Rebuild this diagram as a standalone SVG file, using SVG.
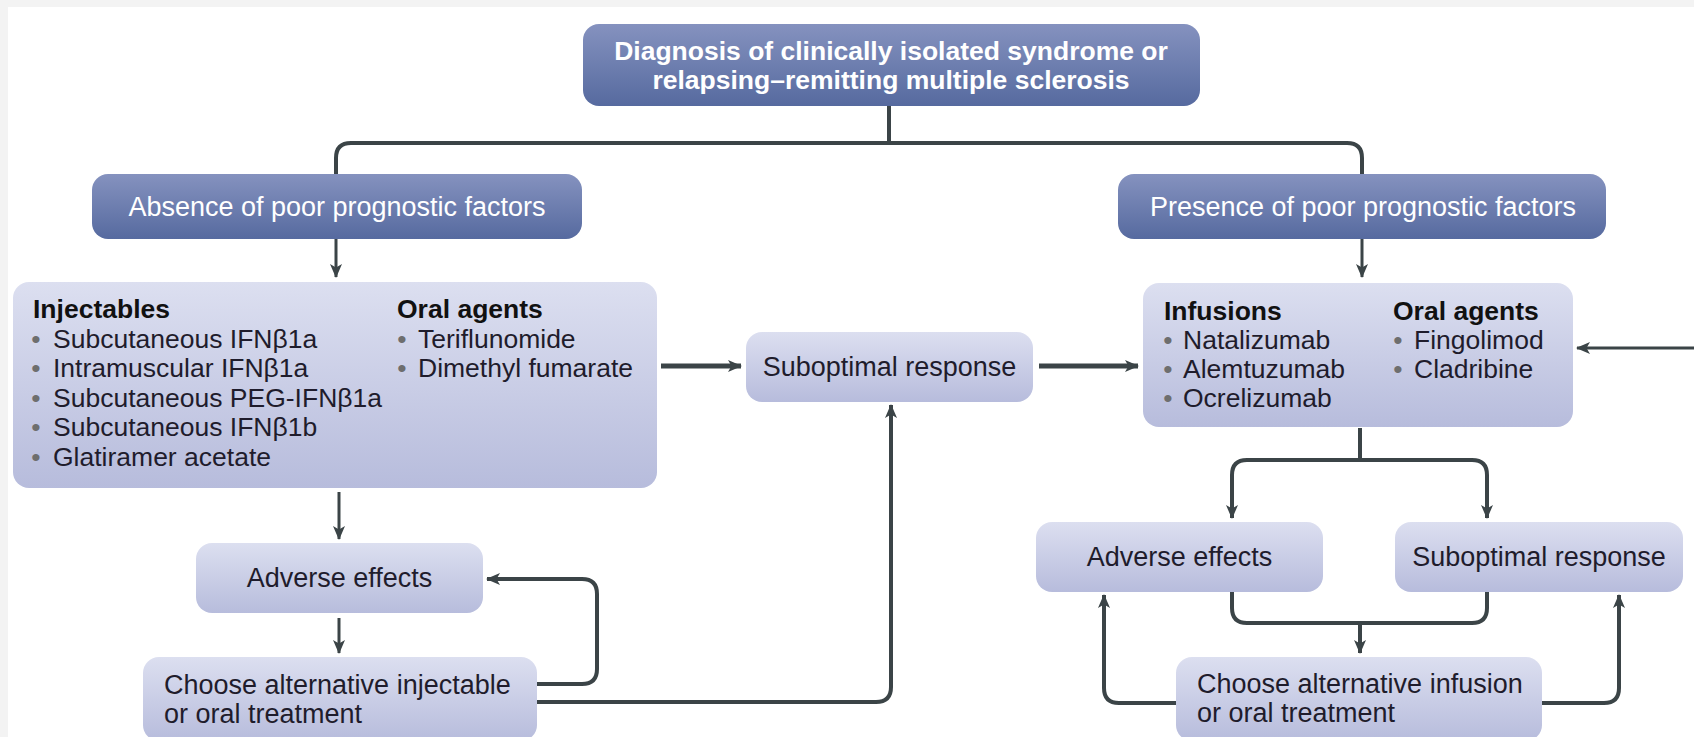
<svg xmlns="http://www.w3.org/2000/svg" width="1694" height="737" viewBox="0 0 1694 737">
<style>
.dark{fill:url(#gDark)}
.light{fill:url(#gLight)}
.wt{font-family:"Liberation Sans",Arial,sans-serif;font-size:27px;fill:#ffffff}
.title{font-family:"Liberation Sans",Arial,sans-serif;font-size:26.5px;font-weight:bold;fill:#ffffff}
.lbl{font-family:"Liberation Sans",Arial,sans-serif;font-size:27px;fill:#1f1c2c}
.li{font-family:"Liberation Sans",Arial,sans-serif;font-size:26.5px;fill:#1f1c2c}
.hd{font-family:"Liberation Sans",Arial,sans-serif;font-size:26.5px;font-weight:bold;fill:#111111}
.bu{fill:#6e6e6e}
.c{fill:none;stroke:#3b4447;stroke-linejoin:round}
.w3{stroke-width:3}
.w4{stroke-width:4}
.w5{stroke-width:5}
.arr{marker-end:url(#ah)}
</style>
<defs>
<linearGradient id="gDark" x1="0" y1="0" x2="0" y2="1">
<stop offset="0" stop-color="#8592bf"/>
<stop offset="1" stop-color="#566a9f"/>
</linearGradient>
<linearGradient id="gLight" x1="0" y1="0" x2="0" y2="1">
<stop offset="0" stop-color="#dcdff0"/>
<stop offset="1" stop-color="#b7bcdc"/>
</linearGradient>
<marker id="ah" viewBox="0 0 14 12" refX="13" refY="6" markerWidth="14" markerHeight="12" markerUnits="userSpaceOnUse" orient="auto">
<path d="M0,0 L14,6 L0,12 L3.5,6 Z" fill="#3b4447"/>
</marker>
</defs>
<rect x="0" y="0" width="1694" height="737" fill="#f3f3f3"/>
<rect x="8" y="7" width="1686" height="730" fill="#ffffff"/>

<g id="connectors">
<path class="c w4" d="M889,106 V143"/>
<path class="c w4" d="M336,174 V158 Q336,143 351,143 H1347 Q1362,143 1362,158 V174"/>
<path class="c w3 arr" d="M336,239 V277"/>
<path class="c w3 arr" d="M1362,239 V277"/>
<path class="c w5 arr" d="M661,366 H741"/>
<path class="c w5 arr" d="M1039,366 H1138"/>
<path class="c w3 arr" d="M1694,348 H1577"/>
<path class="c w3 arr" d="M339,492 V539"/>
<path class="c w3 arr" d="M339,618 V653"/>
<path class="c w4 arr" d="M537,684 H582 Q597,684 597,669 V594 Q597,579 582,579 H487"/>
<path class="c w4 arr" d="M537,702 H876 Q891,702 891,687 V405"/>
<path class="c w4" d="M1360,428 V460"/>
<path class="c w4 arr" d="M1360,460 H1247 Q1232,460 1232,475 V518"/>
<path class="c w4 arr" d="M1360,460 H1472 Q1487,460 1487,475 V518"/>
<path class="c w4" d="M1232,592 V608 Q1232,623 1247,623 H1472 Q1487,623 1487,608 V592"/>
<path class="c w4 arr" d="M1360,623 V653"/>
<path class="c w4 arr" d="M1176,703 H1119 Q1104,703 1104,688 V595"/>
<path class="c w4 arr" d="M1542,703 H1604 Q1619,703 1619,688 V595"/>
</g>

<g id="diagnosis">
<rect class="dark" x="583" y="24" width="617" height="82" rx="16"/>
<text class="title" x="891" y="60" text-anchor="middle">Diagnosis of clinically isolated syndrome or</text>
<text class="title" x="891" y="89" text-anchor="middle">relapsing–remitting multiple sclerosis</text>
</g>

<g id="absence">
<rect class="dark" x="92" y="174" width="490" height="65" rx="16"/>
<text class="wt" x="337" y="216" text-anchor="middle">Absence of poor prognostic factors</text>
</g>

<g id="presence">
<rect class="dark" x="1118" y="174" width="488" height="65" rx="16"/>
<text class="wt" x="1363" y="216" text-anchor="middle">Presence of poor prognostic factors</text>
</g>

<g id="first-line">
<rect class="light" x="13" y="282" width="644" height="206" rx="16"/>
<text class="hd" x="33" y="318">Injectables</text>
<text class="li" y="347.5"><tspan class="bu" x="36" text-anchor="middle">•</tspan><tspan x="53">Subcutaneous IFNβ1a</tspan></text>
<text class="li" y="377"><tspan class="bu" x="36" text-anchor="middle">•</tspan><tspan x="53">Intramuscular IFNβ1a</tspan></text>
<text class="li" y="406.5"><tspan class="bu" x="36" text-anchor="middle">•</tspan><tspan x="53">Subcutaneous PEG-IFNβ1a</tspan></text>
<text class="li" y="436"><tspan class="bu" x="36" text-anchor="middle">•</tspan><tspan x="53">Subcutaneous IFNβ1b</tspan></text>
<text class="li" y="465.5"><tspan class="bu" x="36" text-anchor="middle">•</tspan><tspan x="53">Glatiramer acetate</tspan></text>
<text class="hd" x="397" y="318">Oral agents</text>
<text class="li" y="347.5"><tspan class="bu" x="402" text-anchor="middle">•</tspan><tspan x="418">Teriflunomide</tspan></text>
<text class="li" y="377"><tspan class="bu" x="402" text-anchor="middle">•</tspan><tspan x="418">Dimethyl fumarate</tspan></text>
</g>

<g id="suboptimal-1">
<rect class="light" x="746" y="332" width="287" height="70" rx="16"/>
<text class="lbl" x="889.5" y="376" text-anchor="middle">Suboptimal response</text>
</g>

<g id="second-line">
<rect class="light" x="1143" y="283" width="430" height="144" rx="16"/>
<text class="hd" x="1164" y="320">Infusions</text>
<text class="li" y="349"><tspan class="bu" x="1168" text-anchor="middle">•</tspan><tspan x="1183">Natalizumab</tspan></text>
<text class="li" y="378"><tspan class="bu" x="1168" text-anchor="middle">•</tspan><tspan x="1183">Alemtuzumab</tspan></text>
<text class="li" y="407"><tspan class="bu" x="1168" text-anchor="middle">•</tspan><tspan x="1183">Ocrelizumab</tspan></text>
<text class="hd" x="1393" y="320">Oral agents</text>
<text class="li" y="349"><tspan class="bu" x="1398" text-anchor="middle">•</tspan><tspan x="1414">Fingolimod</tspan></text>
<text class="li" y="378"><tspan class="bu" x="1398" text-anchor="middle">•</tspan><tspan x="1414">Cladribine</tspan></text>
</g>

<g id="adverse-1">
<rect class="light" x="196" y="543" width="287" height="70" rx="16"/>
<text class="lbl" x="339.5" y="587" text-anchor="middle">Adverse effects</text>
</g>

<g id="choose-1">
<rect class="light" x="143" y="657" width="394" height="84" rx="16"/>
<text class="lbl" x="164" y="694">Choose alternative injectable</text>
<text class="lbl" x="164" y="723">or oral treatment</text>
</g>

<g id="adverse-2">
<rect class="light" x="1036" y="522" width="287" height="70" rx="16"/>
<text class="lbl" x="1179.5" y="566" text-anchor="middle">Adverse effects</text>
</g>

<g id="suboptimal-2">
<rect class="light" x="1395" y="522" width="288" height="70" rx="16"/>
<text class="lbl" x="1539" y="566" text-anchor="middle">Suboptimal response</text>
</g>

<g id="choose-2">
<rect class="light" x="1176" y="657" width="366" height="84" rx="16"/>
<text class="lbl" x="1197" y="693">Choose alternative infusion</text>
<text class="lbl" x="1197" y="722">or oral treatment</text>
</g>
</svg>
